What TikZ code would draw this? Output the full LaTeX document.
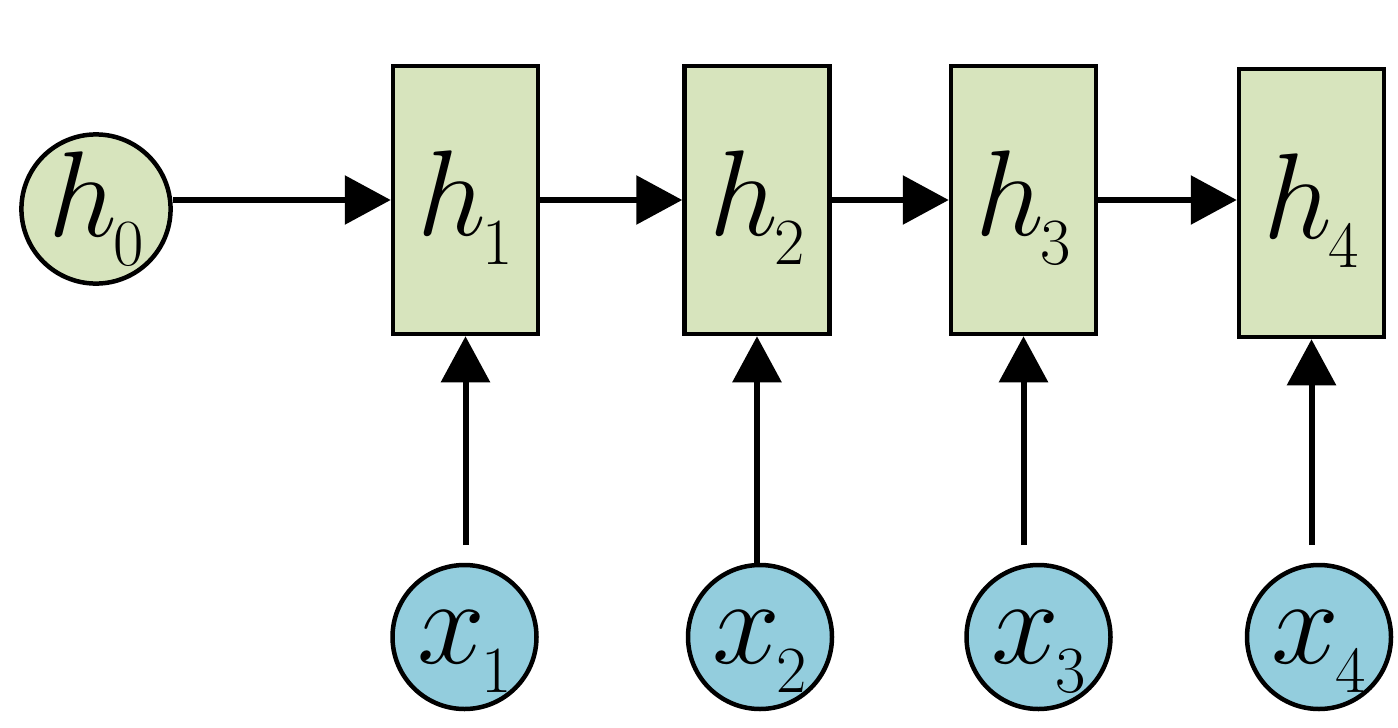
\RequirePackage{fix-cm}
\documentclass[tikz,border=0pt]{standalone}
\usetikzlibrary{arrows.meta}
\definecolor{cellgreen}{HTML}{D7E4BD}
\definecolor{inblue}{HTML}{93CDDD}
\newcommand\varlbl[2]{\fontsize{122}{124}\selectfont$#1$\kern-4pt\raisebox{-29pt}{\fontsize{66}{68}\selectfont #2}}
\begin{document}
\begin{tikzpicture}[x=1pt,y=-1pt,
  cell/.style={rectangle,draw=black,line width=4.5pt,fill=cellgreen,minimum width=145pt,minimum height=268pt,inner sep=0pt,text height=85pt,text depth=15pt},
  initstate/.style={circle,draw=black,line width=4.5pt,fill=cellgreen,minimum size=144pt,inner sep=0pt},
  inputnode/.style={circle,draw=black,line width=4.5pt,fill=inblue,minimum size=144pt,inner sep=0pt,text height=60pt,text depth=8pt},
  arr/.style={line width=6pt,-{Triangle[length=46pt,width=48pt]}}]
\useasboundingbox (0,0) rectangle (1398,728);
\node[initstate] (h0) at (96,209) {\varlbl{h}{0}};
\node[cell] (h1) at (465.5,200) {\varlbl{h}{1}};
\node[cell] (h2) at (757,200) {\varlbl{h}{2}};
\node[cell] (h3) at (1023.5,200) {\varlbl{h}{3}};
\node[cell] (h4) at (1311.5,203) {\varlbl{h}{4}};
\node[inputnode] (x1) at (464.5,637) {\varlbl{x}{1}};
\node[inputnode] (x2) at (760,637) {\varlbl{x}{2}};
\node[inputnode] (x3) at (1038.5,637) {\varlbl{x}{3}};
\node[inputnode] (x4) at (1319,637) {\varlbl{x}{4}};
\coordinate (c1) at (465.5,545);
\coordinate (c2) at (757,563);
\coordinate (c3) at (1023.5,545);
\coordinate (c4) at (1311.5,545);
\draw[arr] (h0.east |- h1.west) -- (h1.west);
\draw[arr] (h1.east) -- (h2.west);
\draw[arr] (h2.east) -- (h3.west);
\draw[arr] (h3.east) -- (h3.east -| h4.west);
\draw[arr] (c1) -- (h1.south);
\draw[arr] (c2) -- (h2.south);
\draw[arr] (c3) -- (h3.south);
\draw[arr] (c4) -- (h4.south);
\end{tikzpicture}
\end{document}
